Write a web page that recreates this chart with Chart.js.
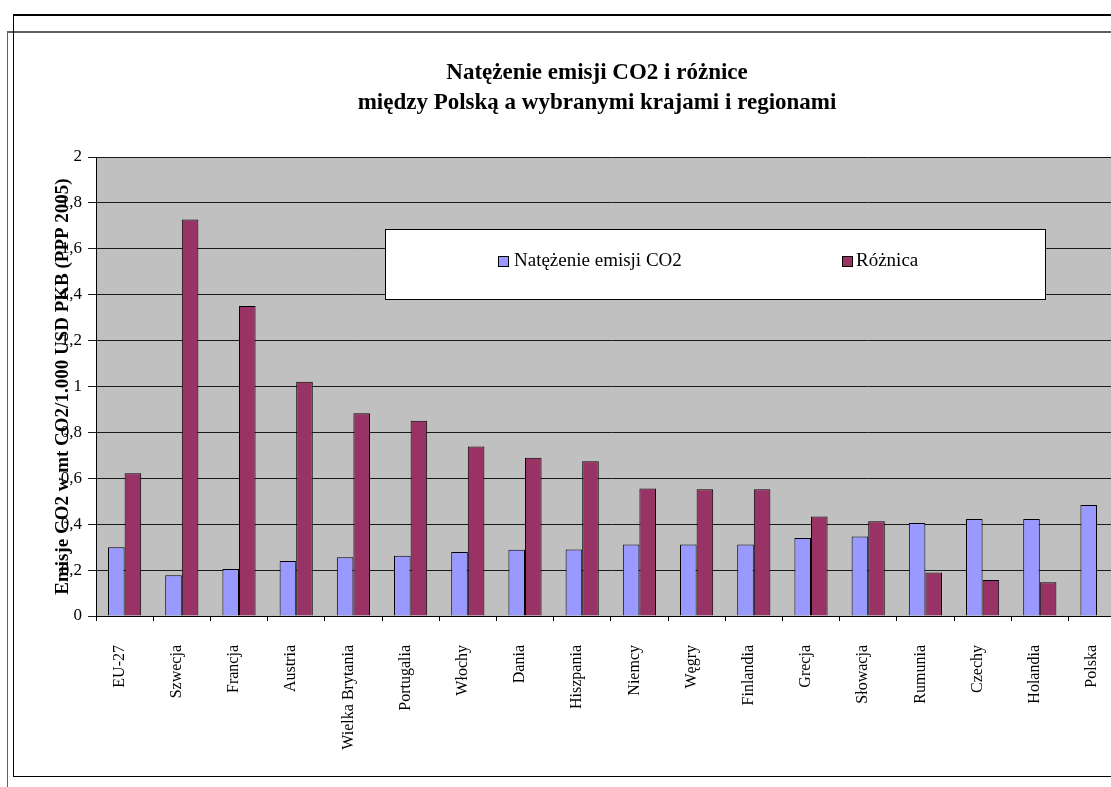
<!DOCTYPE html>
<html lang="pl">
<head>
<meta charset="utf-8">
<title>Natężenie emisji CO2</title>
<script src="https://cdn.jsdelivr.net/npm/chart.js@4.4.1/dist/chart.umd.min.js"></script>
<style>
  html, body { margin: 0; padding: 0; background: #fff; width: 1111px; height: 787px; overflow: hidden; }
  .sheet { position: absolute; left: 7px; top: 31px; width: 1200px; height: 800px;
           border-top: 2px solid #5f5f5f; border-left: 1px solid #5f5f5f; }
  .frame { position: absolute; left: 13px; top: 14px; width: 1200px; height: 760px;
           border: 1px solid #000; border-top-width: 2px; }
  #chart { position: absolute; left: 0; top: 0; }
</style>
</head>
<body>
<div class="sheet"></div>
<div class="frame">
  <canvas id="chart" width="1166" height="760"></canvas>
</div>
<script>
const categories = ['EU-27', 'Szwecja', 'Francja', 'Austria', 'Wielka Brytania', 'Portugalia', 'Włochy', 'Dania',
  'Hiszpania', 'Niemcy', 'Węgry', 'Finlandia', 'Grecja', 'Słowacja', 'Rumunia', 'Czechy', 'Holandia', 'Polska'];
const intensity = [0.30, 0.178, 0.205, 0.24, 0.256, 0.263, 0.279, 0.289, 0.29, 0.312, 0.312, 0.312, 0.34, 0.346, 0.405, 0.423, 0.423, 0.484];
const difference = [0.622, 1.728, 1.351, 1.021, 0.883, 0.851, 0.739, 0.69, 0.674, 0.556, 0.552, 0.552, 0.434, 0.413, 0.19, 0.157, 0.147, 0];
const yTickLabels = ['0', '0,2', '0,4', '0,6', '0,8', '1', '1,2', '1,4', '1,6', '1,8', '2'];
const seriesNames = ['Natężenie emisji CO2', 'Różnica'];
const titleLines = ['Natężenie emisji CO2 i różnice', 'między Polską a wybranymi krajami i regionami'];
const yTitle = 'Emisje CO2 w mt CO2/1.000 USD PKB (PPP 2005)';

Chart.defaults.font.family = "'Liberation Serif', 'Times New Roman', serif";
Chart.defaults.color = '#000';

// grey plot area like the Excel original
const plotBackground = {
  id: 'plotBackground',
  beforeDraw(chart) {
    const { ctx, chartArea: a } = chart;
    ctx.save();
    ctx.fillStyle = '#c0c0c0';
    ctx.fillRect(a.left, a.top, a.right - a.left, a.bottom - a.top);
    ctx.restore();
  }
};

// legend box sitting inside the plot
const boxLegend = {
  id: 'boxLegend',
  afterDraw(chart) {
    const ctx = chart.ctx;
    const swatchX = [484, 828];
    const textX = [500, 842];
    const cy = 245;
    ctx.save();
    ctx.fillStyle = '#fff';
    ctx.fillRect(371, 213, 660, 70);
    ctx.strokeStyle = '#000';
    ctx.lineWidth = 1;
    ctx.strokeRect(371.5, 213.5, 660, 70);
    ctx.font = "19px 'Liberation Serif', 'Times New Roman', serif";
    ctx.textBaseline = 'middle';
    chart.data.datasets.forEach((ds, i) => {
      ctx.fillStyle = ds.backgroundColor;
      ctx.fillRect(swatchX[i], cy - 5, 10, 10);
      ctx.strokeRect(swatchX[i] + 0.5, cy - 5 + 0.5, 10, 10);
      ctx.fillStyle = '#000';
      ctx.fillText(ds.label, textX[i], cy);
    });
    ctx.restore();
  }
};

new Chart(document.getElementById('chart'), {
  type: 'bar',
  data: {
    labels: categories,
    datasets: [
      { label: seriesNames[0], data: intensity, backgroundColor: '#9999ff', borderColor: '#000', borderWidth: 1 },
      { label: seriesNames[1], data: difference, backgroundColor: '#993366', borderColor: '#000', borderWidth: 1 }
    ]
  },
  options: {
    responsive: false,
    animation: false,
    categoryPercentage: 0.58,
    barPercentage: 1,
    layout: { padding: 0 },
    plugins: {
      legend: { display: false },
      tooltip: { enabled: false },
      title: {
        display: true,
        text: titleLines,
        color: '#000',
        font: { size: 23, weight: 'bold', lineHeight: 1.3 },
        padding: { top: 42, bottom: 39.2 }
      }
    },
    scales: {
      x: {
        grid: { drawOnChartArea: false, color: '#000', tickLength: 5 },
        border: { color: '#000' },
        ticks: { autoSkip: false, minRotation: 90, maxRotation: 90, padding: 24, labelOffset: -5, font: { size: 16 } },
        afterFit: s => { s.height = 160; }
      },
      y: {
        min: 0,
        max: 2,
        ticks: { stepSize: 0.2, padding: 6, font: { size: 17 }, callback: (v, i) => yTickLabels[i] },
        grid: { color: '#1a1a1a', tickLength: 8 },
        border: { color: '#000' },
        title: { display: true, text: yTitle, font: { size: 19, weight: 'bold' }, padding: { top: 38, bottom: 0 } },
        afterFit: s => { s.width = 82; }
      },
      // empty axis only to keep the right margin of the original layout
      yRight: {
        position: 'right',
        grid: { display: false },
        border: { display: false },
        ticks: { display: false },
        afterFit: s => { s.width = 54.4; }
      }
    }
  },
  plugins: [plotBackground, boxLegend]
});
</script>
</body>
</html>
